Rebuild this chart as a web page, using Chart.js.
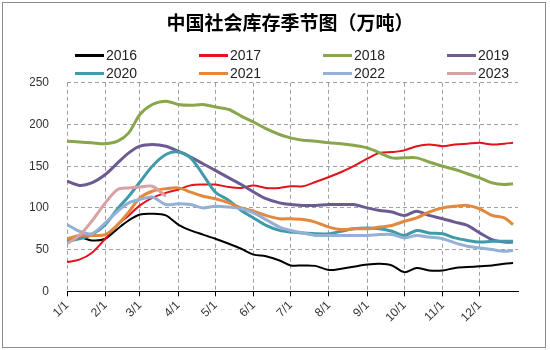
<!DOCTYPE html>
<html>
<head>
<meta charset="utf-8">
<script src="https://cdn.jsdelivr.net/npm/chart.js@4.4.0/dist/chart.umd.min.js"></script>
<style>
    html, body { margin: 0; padding: 0; background: #fff; }
    .wrap { position: relative; width: 550px; height: 350px; }
    .frame { position: absolute; left: 2px; top: 2px; width: 542px; height: 344px; border: 1px solid #8c8c8c; pointer-events: none; }
</style>
</head>
<body>
<div class="wrap">
    <canvas id="stockChart"></canvas>
    <div class="frame"></div>
</div>
<script>
// day of year for each sample
const days = [0, 10, 20, 31, 41, 50, 59, 69, 80, 90, 100, 110, 120, 131, 141, 151, 161, 172, 181, 191,
    201, 212, 222, 232, 243, 253, 263, 273, 283, 293, 304, 314, 324, 334, 344, 354, 361];

const monthStarts = [0, 31, 59, 90, 120, 151, 181, 212, 243, 273, 304, 334];
const monthLabels = ['1/1', '2/1', '3/1', '4/1', '5/1', '6/1', '7/1', '8/1', '9/1', '10/1', '11/1', '12/1'];
const yTicks = [0, 50, 100, 150, 200, 250];

const years = ['2016', '2017', '2018', '2019', '2020', '2021', '2022', '2023'];

const y2016 = [63, 65, 61, 63, 75, 85, 92, 93, 91, 80, 73, 68, 63, 57, 51, 44, 42, 37, 31, 31,
    30.5, 25.5, 27, 29.5, 32, 33, 31, 23, 28, 25, 25, 28, 29, 30, 31, 33, 34];
const y2017 = [35, 38, 46, 63, 80, 91, 103, 112, 118, 122, 127, 128, 128, 125, 124, 127, 124, 124, 126, 126,
    131, 137, 143, 150, 159, 166, 167, 169, 174, 176, 174, 176, 177, 178, 176, 177, 178];
const y2018 = [180, 179, 178, 177, 180, 190, 212, 224, 228, 224, 223, 224, 221, 218, 210, 203, 195, 188, 184, 181,
    180, 178, 177, 175, 172, 166, 160, 160, 160, 155, 150, 146, 141, 136, 130, 128, 129];
const y2019 = [132, 127, 130, 140, 154, 166, 174, 176, 174, 168, 161, 153, 145, 136, 128, 119, 111, 106, 104, 103,
    103, 104, 104, 104, 100, 97, 95, 91, 96, 91, 87, 83, 79, 70, 62, 59, 59];
const y2020 = [60, 63, 68, 80, 99, 114, 131, 150, 164, 167, 160, 140, 119, 109, 97, 88, 79, 73, 71, 70,
    69, 69, 72, 75, 76, 75, 72, 67, 73, 70, 69, 64, 61, 59, 60, 60, 60];
const y2021 = [63, 67, 67, 68, 80, 95, 112, 120, 123, 124, 119, 114, 111, 106, 100, 96, 91, 87, 87, 86,
    83, 77, 74, 75, 75, 77, 79, 84, 88, 95, 100, 102, 103, 99, 91, 88, 80];
const y2022 = [80, 72, 69, 82, 96, 106, 110, 113, 104, 105, 104, 100, 102, 101, 99, 94, 86, 77, 73, 70,
    67, 67, 67, 67, 67, 68, 68, 64, 67, 65, 63, 58, 54, 52, 50, 48, 49];
const y2023 = [57, 67, 84, 106, 122, 124, 125, 126, 114];

const seriesValues = [y2016, y2017, y2018, y2019, y2020, y2021, y2022, y2023];
const colors = ['#000000', '#e3121b', '#8aa64d', '#6c5b92', '#3f9aaa', '#e0893f', '#94b0d4', '#d9a1a3'];
const widths = [2, 2, 3, 3, 3, 3, 3, 3];

const tickFont = { family: '"Liberation Sans", Arial, sans-serif', size: 12 };
const gridColor = '#a0a0a0';

// legend drawn as 4 columns x 2 rows
const yearLegend = {
    id: 'yearLegend',
    afterDraw(chart) {
        const ctx = chart.ctx;
        ctx.save();
        ctx.font = '14px "Liberation Sans", Arial, sans-serif';
        ctx.textBaseline = 'middle';
        ctx.fillStyle = '#222';
        chart.data.datasets.forEach((ds, i) => {
            const x = 75 + (i % 4) * 124;
            const y = 55.5 + Math.floor(i / 4) * 18;
            ctx.strokeStyle = ds.borderColor;
            ctx.lineWidth = 3;
            ctx.beginPath();
            ctx.moveTo(x, y);
            ctx.lineTo(x + 29, y);
            ctx.stroke();
            ctx.fillText(ds.label, x + 31, y + 1);
        });
        ctx.restore();
    }
};

const datasets = years.map((year, i) => ({
    label: year,
    data: seriesValues[i].map((v, k) => ({ x: days[k], y: v })),
    borderColor: colors[i],
    backgroundColor: colors[i],
    borderWidth: widths[i],
    pointRadius: 0,
    tension: 0.3,
    order: -i
}));

new Chart(document.getElementById('stockChart'), {
    type: 'line',
    data: { datasets: datasets },
    options: {
        responsive: true,
        maintainAspectRatio: false,
        animation: false,
        layout: { padding: { left: 30, right: 0, top: 0, bottom: 23 } },
        plugins: {
            legend: { display: false },
            tooltip: { enabled: false },
            title: {
                display: true,
                text: '中国社会库存季节图（万吨）',
                color: '#000',
                font: { family: '"Noto Sans CJK SC", sans-serif', size: 19, weight: 'bold' },
                padding: { top: 11, bottom: 49 }
            }
        },
        scales: {
            x: {
                type: 'linear',
                min: 0,
                max: 365,
                afterBuildTicks: axis => {
                    axis.ticks = monthStarts.map(v => ({ value: v }));
                },
                ticks: {
                    autoSkip: false,
                    minRotation: 45,
                    maxRotation: 45,
                    padding: 2,
                    color: '#333',
                    font: tickFont,
                    callback: (v, i) => monthLabels[i]
                },
                grid: { color: gridColor, tickColor: '#000', tickBorderDash: [], tickLength: 5 },
                border: { color: '#000', width: 1, dash: [4, 3], z: 1 }
            },
            y: {
                min: 0,
                max: 250,
                afterBuildTicks: axis => {
                    axis.ticks = yTicks.map(v => ({ value: v }));
                },
                ticks: { padding: 18, color: '#333', font: tickFont },
                grid: { color: gridColor, drawTicks: false },
                border: { display: false, dash: [4, 3] },
                afterFit: s => { s.width = 37; }
            },
            yRight: {
                position: 'right',
                ticks: { display: false },
                grid: { display: false },
                border: { display: false },
                afterFit: s => { s.width = 32; }
            }
        }
    },
    plugins: [yearLegend]
});
</script>
</body>
</html>
